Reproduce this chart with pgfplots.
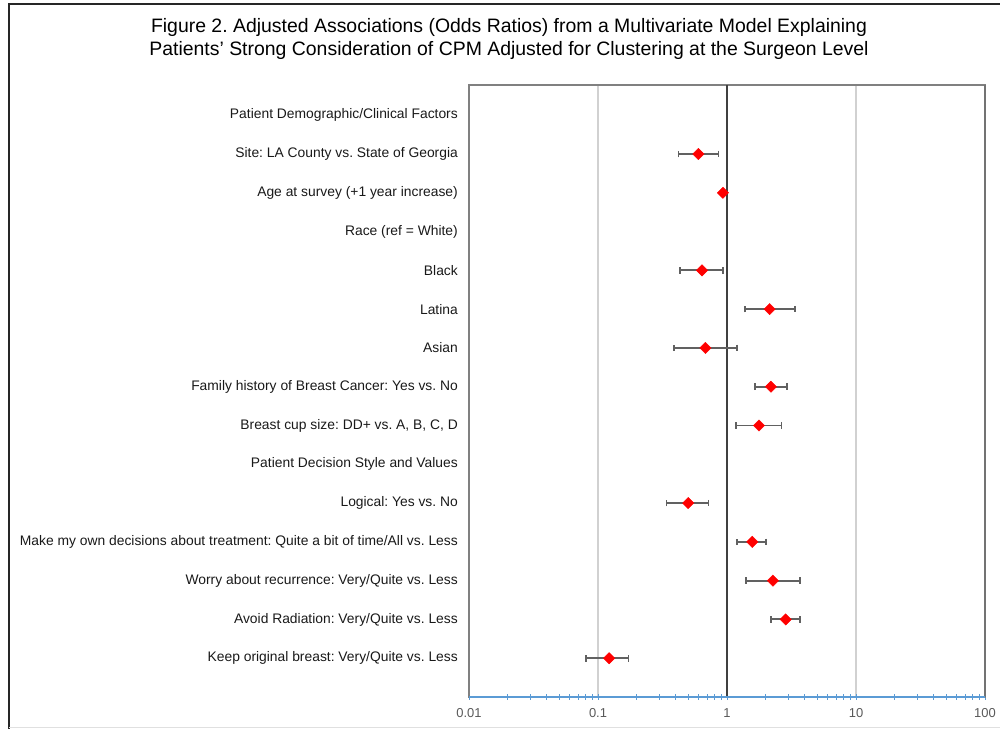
\documentclass[border=0pt]{standalone}
\usepackage{pgfplots}
\pgfplotsset{compat=1.18}
\usepackage{pgfplotstable}
\usepackage{fontspec}
\setmainfont{Liberation Sans}
\frenchspacing
\definecolor{tickblue}{HTML}{5B9BD5}
\definecolor{lblgray}{HTML}{595959}
\pgfplotstableread{
y est em ep
14 0.60 0.18 0.26
13 0.93 0.015 0.015
11 0.64 0.21 0.29
10 2.14 0.76 1.23
9 0.68 0.29 0.52
8 2.19 0.54 0.73
7 1.77 0.59 0.88
5 0.50 0.16 0.22
4 1.57 0.37 0.44
3 2.27 0.87 1.39
2 2.85 0.66 0.85
1 0.122 0.041 0.050
}\ortable
\begin{document}
\begin{tikzpicture}[x=1bp,y=1bp]
\path[use as bounding box] (0,0) rectangle (1000,729);
\draw[black!85, line width=1.8bp] (9,0) -- (9,725) -- (1000,725);
\draw[black!12, line width=1bp] (9,1.5) -- (1000,1.5);
\node[font=\fontsize{19.5}{24}\selectfont, align=center, anchor=center] at (509,690) {Figure 2. Adjusted Associations (Odds Ratios) from a Multivariate Model Explaining\\Patients' Strong Consideration of CPM Adjusted for Clustering at the Surgeon Level};
\begin{axis}[
  at={(469bp,32bp)}, anchor=south west,
  scale only axis, width=516bp, height=612bp,
  xmode=log, xmin=0.01, xmax=100, ymin=0, ymax=15.78,
  /pgf/number format/assume math mode=true,
  axis line style={black!50, line width=1.2bp},
  xtick={0.01,0.1,1,10,100},
  xticklabels={0.01,0.1,1,10,100},
  xtick pos=bottom,
  tick align=center,
  major tick length=6bp, minor tick length=6bp,
  x tick style={tickblue, line width=1bp},
  xticklabel style={font=\fontsize{13}{15}\selectfont, text=lblgray, yshift=-5bp},
  xmajorgrids=true,
  major grid style={black!18, line width=1.2bp},
  ytick={1,...,15},
  yticklabels={
    Keep original breast: Very/Quite vs. Less,
    Avoid Radiation: Very/Quite vs. Less,
    Worry about recurrence: Very/Quite vs. Less,
    Make my own decisions about treatment: Quite a bit of time/All vs. Less,
    Logical: Yes vs. No,
    Patient Decision Style and Values,
    {Breast cup size: DD+ vs. A, B, C, D},
    Family history of Breast Cancer: Yes vs. No,
    Asian,
    Latina,
    Black,
    Race (ref = White),
    Age at survey (+1 year increase),
    Site: LA County vs. State of Georgia,
    Patient Demographic/Clinical Factors},
  y tick style={draw=none},
  yticklabel style={font=\fontsize{13.9}{16}\selectfont, text=black!90, anchor=east, inner sep=0pt, xshift=-8bp},
  clip=false,
]
\draw[black!75, line width=1.5bp] (axis cs:1,0) -- (axis cs:1,15.78);
\draw[black!55, line width=1.6bp] (rel axis cs:1,0) -- (rel axis cs:1,1);
\draw[tickblue, line width=1.2bp] (rel axis cs:0,0) -- (rel axis cs:1,0);
\addplot[only marks, mark=square*, mark size=4bp,
  mark options={rotate=45, fill=red, draw=red},
  error bars/.cd, x dir=both, x explicit,
  error bar style={draw=black!62, line width=1.9bp},
  error mark=|,
  error mark options={draw=black!62, mark size=3.3bp, line width=1.7bp}]
  table[x=est, y=y, x error plus=ep, x error minus=em] {\ortable};
\end{axis}
\end{tikzpicture}
\end{document}
